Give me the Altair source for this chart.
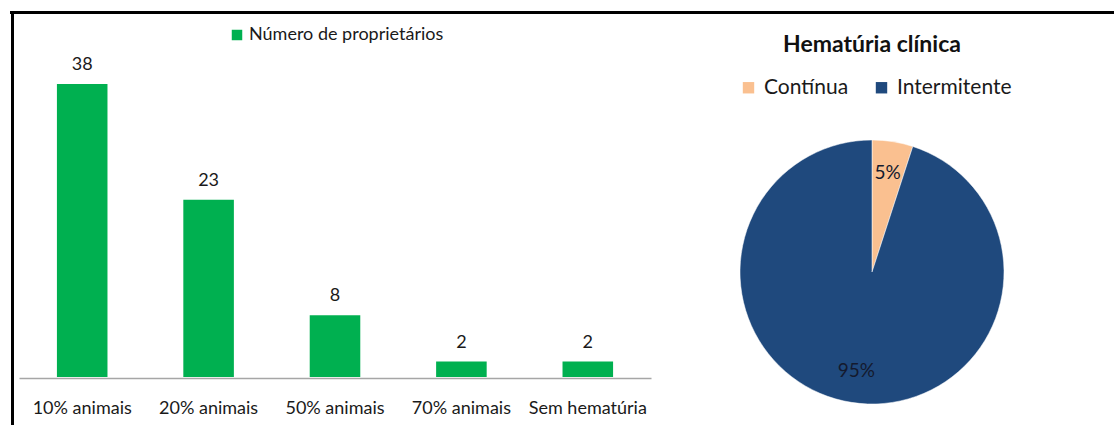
import altair as alt
import pandas as pd

# Bar chart data
categorias = ["10% animais", "20% animais", "50% animais", "70% animais", "Sem hematúria"]
proprietarios = [38, 23, 8, 2, 2]
serie_barras = "Número de proprietários"

# Pie chart data
tipos = ["Contínua", "Intermitente"]
percentuais = [5, 95]
rotulos_pie = ["5%", "95%"]
titulo_pie = "Hematúria clínica"

FONT = "Lato"

bars_df = pd.DataFrame({"cat": categorias, "n": proprietarios, "serie": [serie_barras] * len(categorias)})
pie_df = pd.DataFrame({"tipo": tipos, "pct": percentuais, "rot": rotulos_pie, "ordem": [0, 1]})
title_df = pd.DataFrame({"t": [titulo_pie]})

xscale = alt.Scale(range=[19, 651], paddingInner=0.6, paddingOuter=0.3)
yscale = alt.Scale(domain=[0, 38], range=[377, 84])

xs = alt.X("cat:N", sort=categorias, scale=xscale,
           axis=alt.Axis(title=None, labelAngle=0, ticks=False, offset=-47,
                         domainColor="#a6a6a6", domainWidth=1.5,
                         labelFont=FONT, labelFontSize=18, labelColor="#1a1a1a",
                         labelPadding=21, labelLimit=200))
ys = alt.Y("n:Q", scale=yscale, axis=None)

bars = alt.Chart(bars_df).mark_bar(cornerRadius=0).encode(
    x=xs, y=ys,
    color=alt.Color("serie:N", scale=alt.Scale(domain=[serie_barras], range=["#00B050"]),
                    legend=alt.Legend(title=None, orient="none", legendX=228, legendY=26,
                                      symbolType="square", symbolSize=110, symbolStrokeWidth=0,
                                      labelFont=FONT, labelFontSize=18, labelColor="#1a1a1a",
                                      labelOffset=3, labelLimit=400))
)

bar_text = alt.Chart(bars_df).mark_text(font=FONT, fontSize=18, color="#1a1a1a",
                                        baseline="bottom", dy=-10).encode(
    x=xs, y=ys, text="n:Q",
)

bar_layer = alt.layer(bars, bar_text)

pie = alt.Chart(pie_df).mark_arc(outerRadius=132, stroke="#ffffff", strokeWidth=0.5).encode(
    theta=alt.Theta("pct:Q", stack=True),
    order=alt.Order("ordem:Q"),
    color=alt.Color("tipo:N", sort=tipos,
                    scale=alt.Scale(domain=tipos, range=["#FAC090", "#1F497D"]),
                    legend=alt.Legend(title=None, orient="none", direction="horizontal",
                                      legendX=738, legendY=77,
                                      symbolType="square", symbolSize=130, symbolStrokeWidth=0,
                                      labelFont=FONT, labelFontSize=21, labelColor="#1a1a1a",
                                      labelOffset=5, columnPadding=22, labelLimit=300)),
    x=alt.value(872), y=alt.value(272),
)

pie_text = alt.Chart(pie_df).mark_text(radius=100, font=FONT, fontSize=19, color="#141a2e").encode(
    theta=alt.Theta("pct:Q", stack=True),
    order=alt.Order("ordem:Q"),
    text="rot:N",
    x=alt.value(872), y=alt.value(272),
)

title = alt.Chart(title_df).mark_text(font=FONT, fontSize=23, fontWeight="bold", color="#111111").encode(
    text="t:N", x=alt.value(872), y=alt.value(45),
)

border_top = alt.Chart(title_df).mark_rule(color="#000000", strokeWidth=3).encode(
    x=alt.value(10), x2=alt.value(1114), y=alt.value(12.5))
border_left = alt.Chart(title_df).mark_rule(color="#000000", strokeWidth=3).encode(
    x=alt.value(12.5), y=alt.value(11), y2=alt.value(425))

pie_layer = alt.layer(pie, pie_text)

chart = alt.layer(bar_layer, pie_layer, title, border_top, border_left).resolve_scale(
    x="independent", y="independent", color="independent", theta="independent"
).properties(
    width=1114, height=425, autosize=alt.AutoSizeParams(type="none"), padding=0,
    background="#ffffff"
).configure_view(stroke=None)

chart.save("out.html", embed_options={"renderer": "svg", "actions": False})
